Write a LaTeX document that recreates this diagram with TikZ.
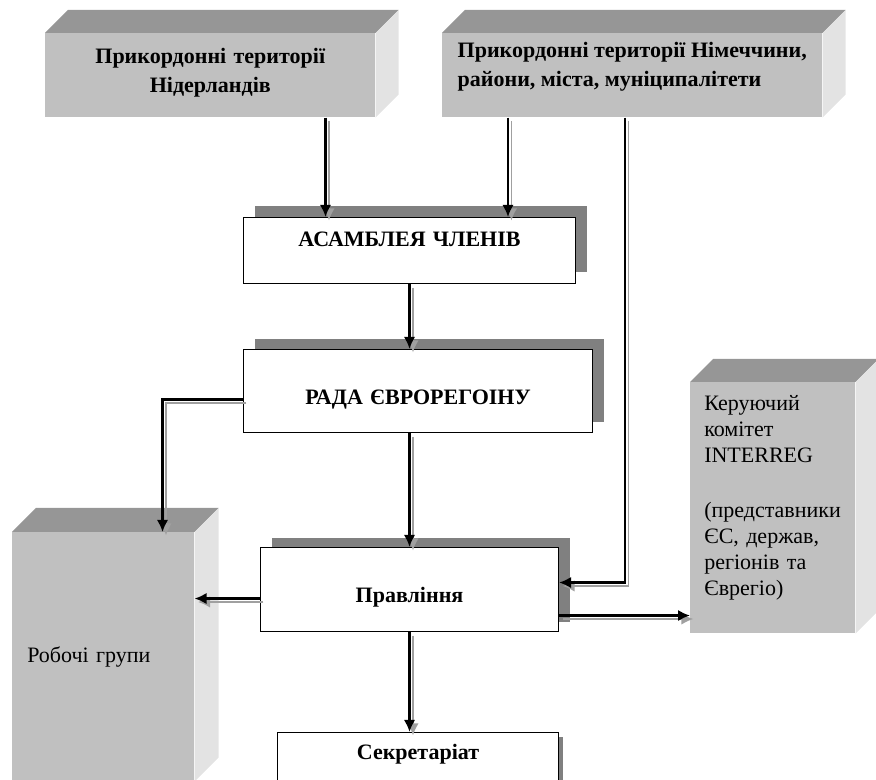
\documentclass[tikz,border=0pt]{standalone}
\usepackage{fontspec}
\setmainfont{Liberation Serif}
\usetikzlibrary{arrows.meta,calc,positioning,shadows}
\definecolor{frontgray}{HTML}{C0C0C0}
\definecolor{topgray}{HTML}{969696}
\definecolor{sidegray}{HTML}{E3E3E3}
\definecolor{shadowgray}{HTML}{808080}
\definecolor{linegray}{HTML}{A0A0A0}
\newcommand\boldtext{\fontsize{16.5pt}{21.75pt}\selectfont\bfseries}
\newcommand\plaintext{\fontsize{16.5pt}{19.5pt}\selectfont}
% top and side faces of a grey block
\newcommand\cubefaces[2]{%
  \fill[topgray] (#1.north west) -- ++(#2,-#2) -- ($(#1.north east)+(#2,-#2)$) -- (#1.north east) -- cycle;
  \fill[sidegray] (#1.north east) -- ++(#2,-#2) -- ($(#1.south east)+(#2,-#2)$) -- (#1.south east) -- cycle;
}
\tikzset{
        cube/.style = {fill=frontgray, anchor=north west, inner sep=0pt, font=\boldtext},
        flatbox/.style = {draw, fill=white, anchor=north west, inner sep=0pt,
            align=center, line width=0.8pt, font=\boldtext},
        boxshadow/.style 2 args = {drop shadow={shadow xshift=#1, shadow yshift=#2,
            fill=shadowgray, opacity=1}},
        arrow/.style = {draw, -{Latex[length=9pt,width=8.5pt]}, line width=1.7pt,
            preaction={draw=linegray, line width=1.3pt,
                transform canvas={xshift=2.6pt, yshift=-2.6pt}}},
    }

\begin{document}
\begin{tikzpicture}[x=0.75pt, y=-0.75pt]
    \path[use as bounding box, clip] (0,0) rectangle (876,780);

    % grey blocks
    \node[cube, align=center, text width=247.5pt,
          text height=22.5pt, text depth=40.5pt] (nl) at (45,33)
          {Прикордонні території\\Нідерландів};
    \node[cube, align=left, minimum width=285pt,
          text height=39.75pt, text depth=23.25pt] (de) at (442,33)
          {Прикордонні території Німеччини,\\райони, міста, муніципалітети};
    \node[cube, font=\plaintext, align=left, inner xsep=11.25pt, text width=114pt,
          text height=97.5pt, text depth=89.25pt] (rg) at (12,532)
          {Робочі групи};
    \node[cube, font=\plaintext, align=left, inner xsep=10.5pt, text width=102.75pt,
          text height=21pt, text depth=167.25pt] (ker) at (690,382)
          {Керуючий\\комітет\\INTERREG\\[22pt](представники\\ЄС, держав,\\регіонів та\\Єврегіо)};
    \cubefaces{nl}{23}
    \cubefaces{de}{23}
    \cubefaces{rg}{24}
    \cubefaces{ker}{23}

    % white boxes
    \node[flatbox, boxshadow={8.5pt}{8.75pt}, text width=249pt,
          text height=21.75pt, text depth=27.75pt] (asm) at (243,217) {АСАМБЛЕЯ ЧЛЕНІВ};
    \node[flatbox, boxshadow={8.25pt}{8.25pt}, text width=261.75pt,
          text height=41.25pt, text depth=21pt] (rada) at (243,349) {РАДА ЄВРОРЕГОІНУ};
    \node[flatbox, boxshadow={8.25pt}{7.5pt}, text width=223.5pt,
          text height=41.25pt, text depth=21.75pt] (pr) at (260,547) {Правління};
    \node[flatbox, boxshadow={3pt}{-3pt}, text width=210.75pt,
          text height=20.25pt, text depth=40pt] (sk) at (277,732) {Секретаріат};

    % connectors
    \coordinate (nlout) at ([xshift=-37.5pt]nl.south east);
    \coordinate (deout) at ([xshift=49.5pt]de.south west);
    \coordinate (deside) at ([xshift=137.25pt]de.south west);
    \coordinate (radaleft) at ([yshift=-6.4pt]rada.west);
    \coordinate (rgtop) at ([xshift=-24pt]rg.north east);
    \coordinate (prleft) at ([yshift=-6.75pt]pr.west);
    \coordinate (prright) at ([yshift=-19.5pt]pr.east);
    \coordinate (prin) at ([yshift=5.25pt]pr.east);

    \draw[arrow] (nlout) -- (nlout |- asm.north);
    \draw[arrow] (deout) -- (deout |- asm.north);
    \draw[arrow] (asm.south) -- (asm.south |- rada.north);
    \draw[arrow] (pr.north |- rada.south) -- (pr.north);
    \draw[arrow] (pr.south) -- (pr.south |- sk.north);
    \draw[arrow] (radaleft) -| (rgtop);
    \draw[arrow] (prleft) -- (prleft -| rg.east);
    \draw[arrow] (prright) -- (prright -| ker.west);
    \draw[arrow] (deside) |- (prin);
\end{tikzpicture}
\end{document}
